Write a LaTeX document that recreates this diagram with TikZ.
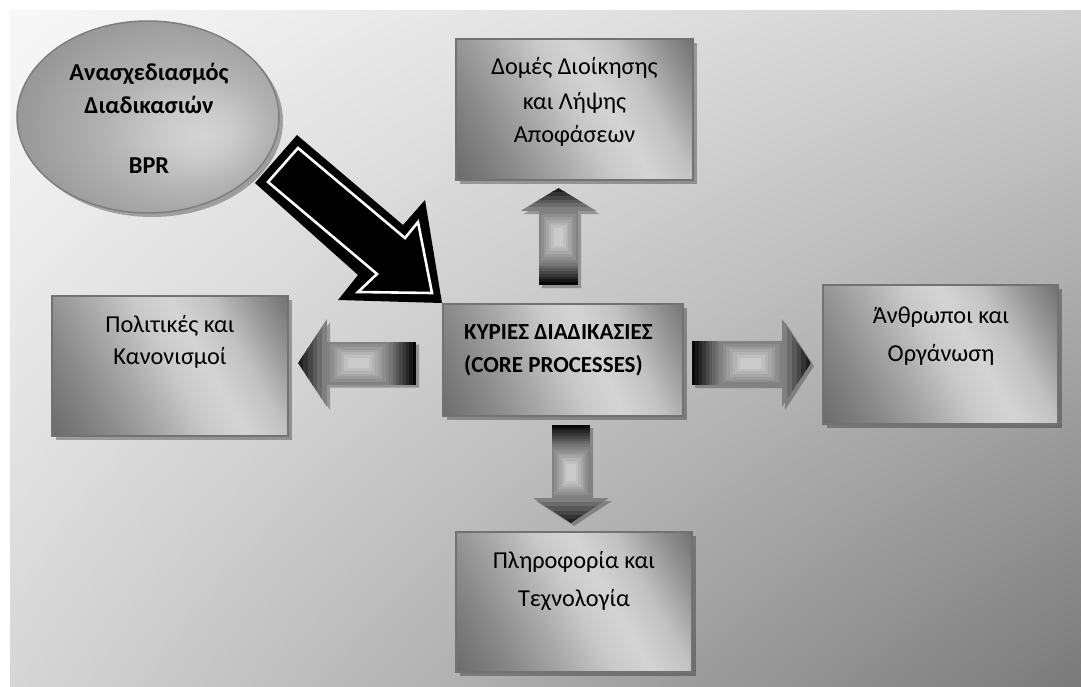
\documentclass[tikz,border=0pt]{standalone}
\usepackage{fontspec}
\setmainfont{Carlito}
\usetikzlibrary{shapes.geometric,shadows,shadings}

\definecolor{bgtl}{HTML}{F8F8F8}
\definecolor{bgtr}{HTML}{CFCFCF}
\definecolor{bgbl}{HTML}{D6D6D6}
\definecolor{bgbr}{HTML}{7A7A7A}
\definecolor{boxline}{HTML}{727272}
\definecolor{ellA}{HTML}{D4D4D4}
\definecolor{ellB}{HTML}{CACACA}
\definecolor{ellC}{HTML}{B2B2B2}
\definecolor{ellD}{HTML}{979797}
\definecolor{ellE}{HTML}{858585}
\definecolor{ellline}{HTML}{7E7E7E}
\definecolor{bxA}{HTML}{616161}
\definecolor{bxB}{HTML}{676767}
\definecolor{bxC}{HTML}{878787}
\definecolor{bxD}{HTML}{A9A9A9}
\definecolor{bxE}{HTML}{C9C9C9}
\definecolor{bxF}{HTML}{D4D4D4}
\definecolor{bxG}{HTML}{C2C2C2}
\definecolor{bxH}{HTML}{929292}
\definecolor{bxI}{HTML}{6A6A6A}

% diagonal dark-light-dark fill of the boxes (light band a little past the centre)
\pgfdeclareverticalshading{boxsh}{100bp}{color(0bp)=(bxA); color(14bp)=(bxB);
  color(28bp)=(bxC); color(40bp)=(bxD); color(50bp)=(bxE); color(58bp)=(bxF);
  color(67bp)=(bxG); color(77bp)=(bxH); color(86bp)=(bxI); color(100bp)=(bxA)}
% off-centre glow of the ellipse
\pgfdeclareradialshading{ellsh}{\pgfpoint{11bp}{-5bp}}{color(0bp)=(ellA);
  color(7bp)=(ellB); color(16bp)=(ellC); color(30bp)=(ellD); color(38bp)=(ellE);
  color(50bp)=(ellE)}

% block arrow: tail centre (#1,#2), direction #3, shaft length #4,
% shaft half width #5, head length #6, head half width #7
\newcommand\blockarrow[7]{%
  \pgfmathsetmacro\aLs{#4}\pgfmathsetmacro\ahs{#5}%
  \pgfmathsetmacro\aLh{#6}\pgfmathsetmacro\ahh{#7}%
  \pgfmathsetmacro\atip{\aLs+\aLh}%
  \begin{scope}[shift={(#1+3,#2+3)},rotate=#3]
    \fill[black,opacity=.28] (0,-\ahs) -- (\aLs,-\ahs) -- (\aLs,-\ahh) -- (\atip,0)
      -- (\aLs,\ahh) -- (\aLs,\ahs) -- (0,\ahs) -- cycle;
  \end{scope}
  \begin{scope}[shift={(#1,#2)},rotate=#3]
    \fill[black!50] (0,-\ahs) rectangle (\aLs,\ahs);
    % dark bands at the tail
    \foreach \i in {0,...,7}{
      \pgfmathsetmacro\shd{97-\i*6.2}
      \fill[black!\shd] ({\i*0.3*\aLs/8},-\ahs) rectangle ({(\i+1)*0.3*\aLs/8+0.4},\ahs);
    }
    % light centre of the shaft
    \foreach \k in {0,...,6}{
      \pgfmathsetmacro\shd{49-\k*4.8}
      \fill[black!\shd] ({0.3*\aLs+\k*0.35*\aLs/9},{-\ahs+\k*\ahs/8})
        rectangle ({\aLs-\k*0.35*\aLs/9},{\ahs-\k*\ahs/8});
    }
    % head darkening towards the tip
    \begin{scope}
      \clip (\aLs,-\ahh) -- (\atip,0) -- (\aLs,\ahh) -- cycle;
      \foreach \i in {0,...,5}{
        \pgfmathsetmacro\shd{50+\i*7.5}
        \fill[black!\shd] ({\aLs+\i*\aLh/6},-\ahh) rectangle ({\aLs+(\i+1)*\aLh/6+0.4},\ahh);
      }
    \end{scope}
  \end{scope}
}

\begin{document}
\begin{tikzpicture}[x=1pt,y=-1pt,
  panel/.style={rectangle, shade, shading=boxsh, shading angle=-60,
    draw=boxline, line width=1.5pt, inner sep=0pt,
    drop shadow={shadow xshift=4pt, shadow yshift=-4pt, fill=black, opacity=.3}},
  txt/.style={font=\fontsize{24.3}{29}\selectfont, inner sep=0pt, anchor=base},
  btxt/.style={txt, font=\fontsize{24.3}{29}\selectfont\bfseries}]
\useasboundingbox (0,0) rectangle (1081,686);

% backdrop
\shade[upper left=bgtl, upper right=bgtr, lower left=bgbl, lower right=bgbr]
  (10,10) rectangle (1081,686);

% BPR ellipse
\node[ellipse, shade, shading=ellsh, draw=ellline, line width=1.5pt,
  minimum width=262pt, minimum height=192pt,
  drop shadow={shadow xshift=4pt, shadow yshift=-4pt, fill=black, opacity=.3}]
  (bpr) at (148,117) {};
\node[btxt] (bpr1) at (149,80) {Ανασχεδιασμός};
\node[btxt] (bpr2) at (149,113) {Διαδικασιών};
\node[btxt] (bpr3) at (149,173) {BPR};

% boxes
\node[panel, minimum width=237pt, minimum height=141pt] (mgmt) at (574.5,109.5) {};
\node[panel, minimum width=236pt, minimum height=140pt] (policy) at (170,366) {};
\node[panel, shading angle=-65, minimum width=240pt, minimum height=112pt] (core) at (563,360) {};
\node[panel, minimum width=235pt, minimum height=139pt] (people) at (940.5,354.5) {};
\node[panel, minimum width=236pt, minimum height=140pt] (tech) at (574,602) {};

\node[txt] (mgmt1) at (574.5,74) {Δομές Διοίκησης};
\node[txt] (mgmt2) at (574.5,109) {και Λήψης};
\node[txt] (mgmt3) at (574.5,142) {Αποφάσεων};

\node[txt] (policy1) at (170,332) {Πολιτικές και};
\node[txt] (policy2) at (170,364) {Κανονισμοί};

\node[btxt, font=\fontsize{23}{28}\selectfont\bfseries, anchor=base west] (core1) at (464,339) {ΚΥΡΙΕΣ ΔΙΑΔΙΚΑΣΙΕΣ};
\node[btxt, font=\fontsize{23}{28}\selectfont\bfseries, anchor=base west] (core2) at (464,372) {(CORE PROCESSES)};

\node[txt] (people1) at (941,323) {Άνθρωποι και};
\node[txt] (people2) at (941,361) {Οργάνωση};

\node[txt] (tech1) at (574,568) {Πληροφορία και};
\node[txt] (tech2) at (574,606) {Τεχνολογία};

% shaded block arrows leaving the core box
\blockarrow{558.5}{285}{90}{74}{19.5}{23}{38}
\blockarrow{692}{363}{0}{90}{22}{29}{44}
\blockarrow{416}{363}{180}{89}{21.5}{29}{44}
\blockarrow{571}{425}{-90}{73}{19}{25}{38}

% heavy black arrow from the BPR ellipse into the core box
\fill[black, line join=miter] (297,135) -- (403,225) -- (425,200) -- (442,303)
  -- (338,300) -- (358,275) -- (255,183) -- cycle;
\draw[white, line width=2.6pt, line join=miter] (298,148) -- (405,238) -- (418,222)
  -- (432,293) -- (358,292) -- (377,274) -- (268,182) -- cycle;
\end{tikzpicture}
\end{document}
